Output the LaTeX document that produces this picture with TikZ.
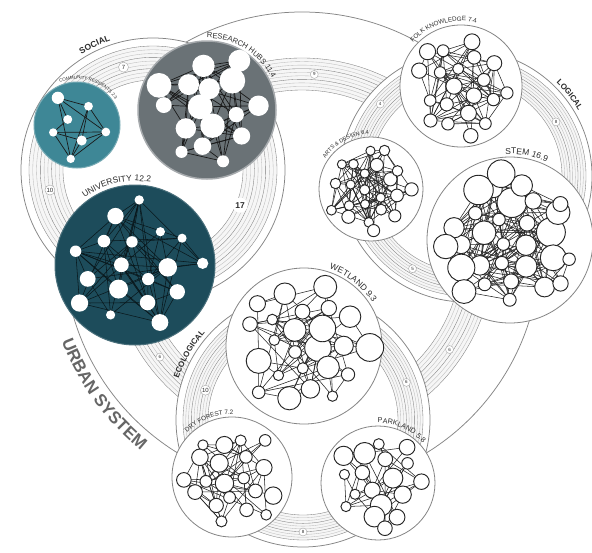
\documentclass[tikz,border=0pt]{standalone}
\usepackage{fontspec}
\setmainfont{Liberation Sans}
\usetikzlibrary{decorations.text}
\definecolor{crfill}{HTML}{3E8796}
\definecolor{rhfill}{HTML}{6A7276}
\definecolor{unfill}{HTML}{1D4C5B}
\definecolor{grpline}{HTML}{858585}
\definecolor{bandc}{HTML}{BDBDBD}
\definecolor{bandd}{HTML}{7E7E7E}
\definecolor{labc}{HTML}{2B2B2B}
\definecolor{urbc}{HTML}{666666}

\newcommand\bandarcs[5]{%
  \fill[gray!7] ([shift={(#2:#4)}]#1.center) arc[start angle=#2, end angle=#3, radius=#4]
     -- ([shift={(#3:#5)}]#1.center) arc[start angle=#3, end angle=#2, radius=#5] -- cycle;
  \foreach \q in {0,...,9}{%
    \pgfmathsetmacro\myrr{#4+(#5-#4)*\q/9}%
    \pgfmathtruncatemacro\mydk{mod(\q,3)==0}%
    \ifnum\mydk=1 \def\mybcol{bandd}\else\def\mybcol{bandc}\fi
    \draw[bandline, draw=\mybcol] ([shift={(#2:\myrr)}]#1.center) arc[start angle=#2, end angle=#3, radius=\myrr];
  }}

\newcommand\netw[9]{%
  \pgfmathsetseed{#6}%
  \foreach \k in {1,...,#5}{%
    \pgfmathsetmacro\myrad{0.84*#4*sqrt((\k-0.5)/#5)+0.04*#4*rand}%
    \pgfmathsetmacro\myang{\k*137.508+#6+10*rand}%
    \pgfmathsetmacro\mydd{#8+(#9-#8)*pow(rnd,1.6)}%
    \pgfmathsetmacro\myxx{#2+\myrad*cos(\myang)}%
    \pgfmathsetmacro\myyy{#3+\myrad*sin(\myang)}%
    \expandafter\xdef\csname nx#1\k\endcsname{\myxx}%
    \expandafter\xdef\csname ny#1\k\endcsname{\myyy}%
    \expandafter\xdef\csname nd#1\k\endcsname{\mydd}%
    \coordinate (#1-\k) at (\myxx,\myyy);%
  }%
  \foreach \i in {1,...,#5}{%
    \foreach \j in {\i,...,#5}{%
      \ifnum\j>\i\relax
        \edef\myxa{\csname nx#1\i\endcsname}\edef\myya{\csname ny#1\i\endcsname}%
        \edef\myxb{\csname nx#1\j\endcsname}\edef\myyb{\csname ny#1\j\endcsname}%
        \pgfmathsetmacro\mype{#7*(1.2-veclen((\myxa)-(\myxb),(\myya)-(\myyb))/(2*#4))}%
        \pgfmathtruncatemacro\myhit{rnd<\mype}%
        \ifnum\myhit=1 \draw[#1E] (#1-\i) -- (#1-\j);\fi
      \fi
    }%
  }%
  \foreach \k in {1,...,#5}{%
    \edef\mydd{\csname nd#1\k\endcsname}%
    \node[#1N, minimum size=\mydd pt] (#1-n\k) at (#1-\k) {};%
  }%
}

\newcommand\arclabel[6]{%
  \path[decorate, decoration={text along path, text align=center, text={|#5|#6}}]
    ([shift={(#3+#4:#2)}]#1.center) arc[start angle=#3+#4, end angle=#3-#4, radius=#2];}
\newcommand\arclabelccw[6]{%
  \path[decorate, decoration={text along path, text align=center, text={|#5|#6}}]
    ([shift={(#3-#4:#2)}]#1.center) arc[start angle=#3-#4, end angle=#3+#4, radius=#2];}

\begin{document}
\begin{tikzpicture}[x=1pt,y=1pt,
  grp/.style={draw=grpline, line width=0.75pt},
  bandline/.style={line width=0.35pt},
  memb/.style={circle, inner sep=0pt, draw=grpline, line width=0.8pt, fill=white},
  numc/.style={circle, draw=gray!70, fill=white, inner sep=0.4pt, minimum size=8pt, line width=0.4pt,
    font=\fontsize{4.5}{4.5}\selectfont, text=labc},
  numm/.style={numc, minimum size=10pt, font=\fontsize{6}{6}\selectfont},
  numbig/.style={numc, draw=none, minimum size=15pt, font=\bfseries\fontsize{8.5}{8.5}\selectfont},
  nodec/.style={circle, inner sep=0pt, fill=white, draw=none},
  nodew/.style={circle, inner sep=0pt, fill=white, draw=black!85, line width=0.95pt},
  edgew/.style={draw=black!85, line width=0.55pt},
  crN/.style={nodec}, crE/.style={draw=black!90, line width=0.7pt},
  rhN/.style={nodec}, rhE/.style={draw=black!90, line width=0.7pt},
  unN/.style={nodec}, unE/.style={draw=black!70!unfill, line width=0.55pt},
  fkN/.style={nodew}, fkE/.style={edgew},
  adN/.style={nodew}, adE/.style={edgew},
  stN/.style={nodew}, stE/.style={edgew},
  wlN/.style={nodew}, wlE/.style={edgew},
  dfN/.style={nodew}, dfE/.style={edgew},
  pkN/.style={nodew}, pkE/.style={edgew}]
\useasboundingbox (0,0) rectangle (592,-552);
\fill[white] (0,0) rectangle (592,-552);

% group centres
\coordinate (U) at (302,-250);
\coordinate (S) at (153,-170);
\coordinate (L) at (466,-176);
\coordinate (E) at (303,-420);

% urban-level bands
\bandarcs{U}{110}{50}{160}{192}
\bandarcs{U}{-5}{-55}{160}{192}
\bandarcs{U}{190}{240}{160}{192}
\draw[grp] (U) circle[radius=238];
\node[numc] (b9) at ([shift={(86:176)}]U.center) {9};
\node[numc] (b6a) at ([shift={(-34:178)}]U.center) {6};
\node[numc] (b6b) at ([shift={(217:178)}]U.center) {6};

% group circles
\draw[grp, fill=white] (S) circle[radius=132];
\draw[grp, fill=white] (L) circle[radius=126];
\draw[grp, fill=white] (E) circle[radius=127];

% group bands
\bandarcs{S}{140}{75}{90}{124}
\bandarcs{S}{160}{245}{90}{124}
\bandarcs{S}{35}{-85}{90}{124}
\bandarcs{L}{100}{185}{96}{120}
\bandarcs{L}{80}{-40}{96}{120}
\bandarcs{L}{200}{285}{96}{120}
\bandarcs{E}{120}{215}{95}{120}
\bandarcs{E}{60}{-40}{95}{120}
\bandarcs{E}{-55}{-125}{95}{120}
\node[numm] (s7) at ([shift={(106:107)}]S.center) {7};
\node[numm] (s10) at ([shift={(191:105)}]S.center) {10};
\node[numbig] (s17) at ([shift={(-22:94)}]S.center) {17};
\node[numc] (l4) at ([shift={(140:112)}]L.center) {4};
\node[numc] (l8) at ([shift={(31:105)}]L.center) {8};
\node[numc] (l5) at ([shift={(240:107)}]L.center) {5};
\node[numm] (e10) at ([shift={(163:102)}]E.center) {10};
\node[numc] (e6) at ([shift={(20:110)}]E.center) {6};
\node[numc] (e8) at ([shift={(-90:112)}]E.center) {8};

% member circles and networks
\node[memb, minimum size=86pt, fill=crfill, draw=crfill!70!white, line width=1pt] (cr) at (77,-125) {};
\netw{cr}{77}{-125}{43}{7}{11}{0.7}{8}{13}
\node[memb, minimum size=138pt, fill=rhfill, draw=rhfill!60!white, line width=1.5pt] (rh) at (207,-110) {};
\netw{rh}{207}{-110}{69}{16}{23}{0.6}{12}{26}
\node[memb, minimum size=160pt, fill=unfill, draw=unfill!80!white, line width=1pt] (un) at (135,-265) {};
\netw{un}{135}{-265}{80}{18}{37}{0.5}{9}{21}
\node[memb, minimum size=122pt] (fk) at (461,-86) {};
\netw{fk}{461}{-86}{61}{20}{41}{0.45}{11}{18}
\node[memb, minimum size=104pt] (ad) at (371,-189) {};
\netw{ad}{371}{-189}{52}{22}{53}{0.5}{9}{14}
\node[memb, minimum size=166pt] (st) at (510,-240) {};
\netw{st}{510}{-240}{83}{30}{67}{0.42}{12}{30}
\node[memb, minimum size=156pt] (wl) at (304,-346) {};
\netw{wl}{304}{-346}{78}{24}{71}{0.3}{10}{28}
\node[memb, minimum size=120pt] (df) at (232,-477) {};
\netw{df}{232}{-477}{60}{20}{83}{0.33}{10}{20}
\node[memb, minimum size=114pt] (pk) at (378,-483) {};
\netw{pk}{378}{-483}{57}{18}{97}{0.3}{10}{24}

% member labels
\arclabel{cr}{46}{73}{60}{\color{labc}\fontsize{4.5}{4.5}\selectfont}{COMMUNITY RESIDENTS {2.3}}
\arclabel{rh}{72}{58}{55}{\color{labc}\fontsize{7.5}{7.5}\selectfont}{RESEARCH HUBS {11.4}}
\arclabel{un}{84}{103}{50}{\color{labc}\fontsize{8.5}{8.5}\selectfont}{UNIVERSITY {12.2}}
\arclabel{fk}{65}{107}{60}{\color{labc}\fontsize{6.3}{6.3}\selectfont}{FOLK KNOWLEDGE {7.4}}
\arclabel{ad}{55}{119}{60}{\color{labc}\fontsize{5.5}{5.5}\selectfont}{ARTS {\&} DESIGN {6.4}}
\arclabel{st}{86}{79}{40}{\color{labc}\fontsize{8.5}{8.5}\selectfont}{STEM {16.9}}
\arclabel{wl}{81}{52}{45}{\color{labc}\fontsize{8.5}{8.5}\selectfont}{WETLAND {9.3}}
\arclabel{df}{63}{112}{50}{\color{labc}\fontsize{6.3}{6.3}\selectfont}{DRY FOREST {7.2}}
\arclabel{pk}{60}{66}{50}{\color{labc}\fontsize{7.2}{7.2}\selectfont}{PARKLAND {5.8}}

% group labels
\arclabel{S}{136}{115}{25}{\color{labc}\bfseries\fontsize{8.5}{8.5}\selectfont}{SOCIAL}
\arclabel{L}{130}{38}{28}{\color{labc}\bfseries\fontsize{8}{8}\selectfont}{LOGICAL}
\arclabel{E}{131}{150}{38}{\color{labc}\bfseries\fontsize{8}{8}\selectfont}{ECOLOGICAL}
\arclabelccw{U}{257}{216}{28}{\color{urbc}\bfseries\fontsize{17}{17}\selectfont}{URBAN SYSTEM}
\end{tikzpicture}
\end{document}
